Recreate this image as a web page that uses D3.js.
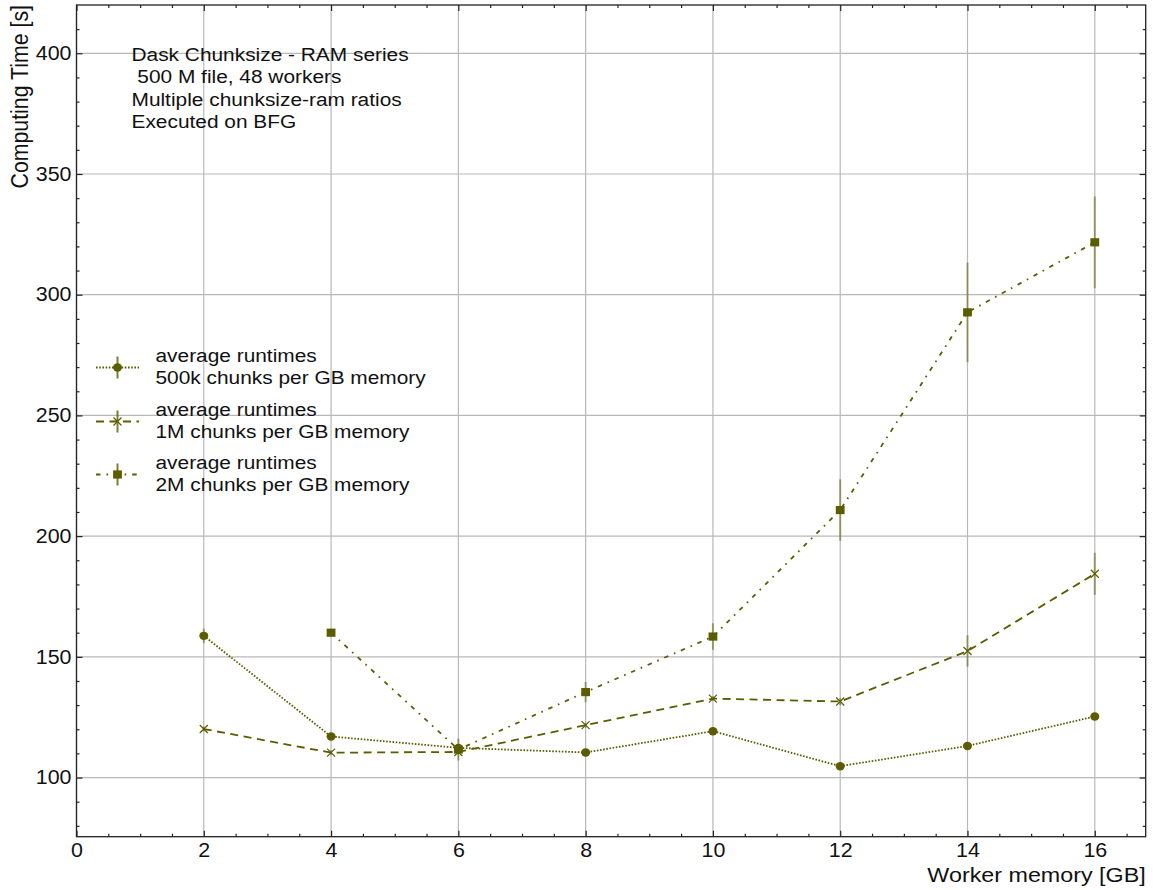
<!DOCTYPE html>
<html>
<head>
<meta charset="utf-8">
<script src="https://cdn.jsdelivr.net/npm/d3@7"></script>
<style>
  html, body { margin: 0; padding: 0; background: #fff; }
  svg { display: block; font-family: "Liberation Sans", Arial, Helvetica, sans-serif; }
</style>
</head>
<body>
<svg id="chart" width="1153" height="890"></svg>
<script>
// Worker memory (GB) for every run
const memoryGB = [2, 4, 6, 8, 10, 12, 14, 16];

// 500k chunks per GB memory
const runtime500k = [158.7, 117.0, 112.3, 110.4, 119.2, 104.7, 113.1, 125.3];
const err500k     = [3.0, 1.0, 1.0, 1.0, 1.0, 1.0, 1.0, 1.0];

// 1M chunks per GB memory
const runtime1M = [120.1, 110.3, 110.6, 121.7, 132.7, 131.5, 152.4, 184.4];
const err1M     = [1.0, 1.0, 1.0, 1.0, 1.0, 1.5, 6.5, 8.7];

// 2M chunks per GB memory (starts at 4 GB)
const memoryGB2M = [4, 6, 8, 10, 12, 14, 16];
const runtime2M  = [160.0, 111.6, 135.4, 158.4, 210.8, 292.7, 321.7];
const err2M      = [1.5, 4.5, 4.2, 5.5, 12.7, 20.6, 19.0];

const legendLabels = [
  ["average runtimes", "500k chunks per GB memory"],
  ["average runtimes", "1M chunks per GB memory"],
  ["average runtimes", "2M chunks per GB memory"]
];

const annotationLines = [
  "Dask Chunksize - RAM series",
  " 500 M file, 48 workers",
  "Multiple chunksize-ram ratios",
  "Executed on BFG"
];

const xTicks = [0, 2, 4, 6, 8, 10, 12, 14, 16];
const yTicks = [100, 150, 200, 250, 300, 350, 400];

const xLabel = "Worker memory [GB]";
const yLabel = "Computing Time [s]";

// ---- layout ----
const svg = d3.select("#chart");
const pLeft = 76.5, pRight = 1145.7, pTop = 5, pBottom = 836.7;
const x = d3.scaleLinear().domain([0, 16.8]).range([pLeft, pRight]);
const y = d3.scaleLinear().domain([75.5, 420]).range([pBottom, pTop]);

// the figure's text runs slightly wide
const sx = 1.11;

const ink = "#5c5c00";
const gridColor = "#b8b8b8";
const textColor = "#111";

// grid
const grid = svg.append("g");
grid.selectAll("line.gx").data(xTicks).join("line")
  .attr("x1", d => x(d)).attr("x2", d => x(d))
  .attr("y1", pTop).attr("y2", pBottom)
  .attr("stroke", gridColor).attr("stroke-width", 1.2);
grid.selectAll("line.gy").data(yTicks).join("line")
  .attr("x1", pLeft).attr("x2", pRight)
  .attr("y1", d => y(d)).attr("y2", d => y(d))
  .attr("stroke", gridColor).attr("stroke-width", 1.2);

// axes with inward ticks on all four sides
const xMinor = d3.range(0, 16.81, 0.5).filter(v => v % 2 !== 0);
const yMinor = d3.range(80, 420, 10).filter(v => v % 50 !== 0);

function axisGroup(axisFn, scale, transform, ticks, size, labels) {
  const a = axisFn(scale).tickValues(ticks).tickSizeInner(size).tickSizeOuter(0);
  if (!labels) a.tickFormat("");
  const g = svg.append("g").attr("transform", transform).call(a);
  g.select(".domain").remove();
  g.selectAll(".tick line").attr("stroke", "#222").attr("stroke-width", 1.2);
  return g;
}

// bottom
const gxb = axisGroup(d3.axisTop, x, `translate(0,${pBottom})`, xTicks, 6, true);
gxb.selectAll(".tick text")
  .attr("x", 0).attr("y", 20).attr("dy", null)
  .attr("transform", `scale(${sx},1)`)
  .attr("font-size", 19.3).attr("fill", textColor)
  .attr("font-family", "Liberation Sans, Arial, sans-serif");
axisGroup(d3.axisTop, x, `translate(0,${pBottom})`, xMinor, 3, false);
// top
axisGroup(d3.axisBottom, x, `translate(0,${pTop})`, xTicks, 6, false);
axisGroup(d3.axisBottom, x, `translate(0,${pTop})`, xMinor, 3, false);
// left
const gyl = axisGroup(d3.axisRight, y, `translate(${pLeft},0)`, yTicks, 6, true);
gyl.selectAll(".tick text")
  .attr("x", -5 / sx).attr("text-anchor", "end")
  .attr("transform", `scale(${sx},1)`)
  .attr("font-size", 19.3).attr("fill", textColor)
  .attr("font-family", "Liberation Sans, Arial, sans-serif");
axisGroup(d3.axisRight, y, `translate(${pLeft},0)`, yMinor, 3, false);
// right
axisGroup(d3.axisLeft, y, `translate(${pRight},0)`, yTicks, 6, false);
axisGroup(d3.axisLeft, y, `translate(${pRight},0)`, yMinor, 3, false);

// frame
svg.append("rect").attr("x", pLeft).attr("y", pTop)
  .attr("width", pRight - pLeft).attr("height", pBottom - pTop)
  .attr("fill", "none").attr("stroke", "#222").attr("stroke-width", 1.3);

// axis labels
svg.append("text")
  .attr("transform", `translate(${pRight},881.5) scale(${sx},1)`)
  .attr("text-anchor", "end").attr("font-size", 21).attr("fill", textColor)
  .text(xLabel);
svg.append("text")
  .attr("transform", `translate(27.5,${pTop}) rotate(-90) scale(1,${sx})`)
  .attr("text-anchor", "end").attr("font-size", 21.3).attr("fill", textColor)
  .text(yLabel);

// series
const series = [
  { xs: memoryGB, ys: runtime500k, es: err500k, dash: "1.6,1.6", marker: "circle" },
  { xs: memoryGB, ys: runtime1M, es: err1M, dash: "8,5.5", marker: "x" },
  { xs: memoryGB2M, ys: runtime2M, es: err2M, dash: "4.5,6,1.6,6", marker: "square" }
];

const plot = svg.append("g");
const line = d3.line().x(d => x(d[0])).y(d => y(d[1]));

function drawMarker(g, kind, cx, cy) {
  if (kind === "circle") {
    g.append("ellipse").attr("cx", cx).attr("cy", cy).attr("rx", 4.5).attr("ry", 4.2).attr("fill", ink);
  } else if (kind === "square") {
    g.append("rect").attr("x", cx - 4.4).attr("y", cy - 4.1)
      .attr("width", 8.8).attr("height", 8.2).attr("fill", ink);
  } else {
    const s = 4;
    g.append("path")
      .attr("d", `M${cx - s},${cy - s}L${cx + s},${cy + s}M${cx - s},${cy + s}L${cx + s},${cy - s}`)
      .attr("stroke", ink).attr("stroke-width", 1.2).attr("fill", "none");
  }
}

series.forEach(s => {
  const pts = s.xs.map((v, i) => [v, s.ys[i], s.es[i]]);
  plot.append("path").datum(pts).attr("d", line)
    .attr("fill", "none").attr("stroke", ink).attr("stroke-width", 1.8)
    .attr("stroke-dasharray", s.dash);
  const mg = plot.append("g");
  pts.forEach(p => drawMarker(mg, s.marker, x(p[0]), y(p[1])));
  plot.append("g").selectAll("line").data(pts).join("line")
    .attr("x1", d => x(d[0])).attr("x2", d => x(d[0]))
    .attr("y1", d => y(d[1] - d[2])).attr("y2", d => y(d[1] + d[2]))
    .attr("stroke", ink).attr("stroke-opacity", 0.5).attr("stroke-width", 2);
});

// annotation block
const ann = svg.append("text")
  .attr("transform", `translate(131.5,0) scale(${sx},1)`)
  .attr("font-size", 18.8).attr("fill", textColor)
  .attr("xml:space", "preserve").style("white-space", "pre");
annotationLines.forEach((t, i) => {
  ann.append("tspan").attr("x", 0).attr("y", 60.7 + i * 22.5).text(t);
});

// legend
const legendY = [367.5, 421.5, 474.5];
legendLabels.forEach((lab, i) => {
  const s = series[i];
  const g = svg.append("g");
  const cy = legendY[i];
  g.append("line").attr("x1", 96).attr("x2", 139).attr("y1", cy).attr("y2", cy)
    .attr("stroke", ink).attr("stroke-width", 1.8).attr("stroke-dasharray", s.dash);
  drawMarker(g, s.marker, 117.5, cy);
  g.append("line").attr("x1", 117.5).attr("x2", 117.5).attr("y1", cy - 11).attr("y2", cy + 11)
    .attr("stroke", ink).attr("stroke-opacity", 0.8).attr("stroke-width", 2);
  const t = g.append("text")
    .attr("transform", `translate(155.5,0) scale(${sx},1)`)
    .attr("font-size", 18.8).attr("fill", textColor);
  t.append("tspan").attr("x", 0).attr("y", cy - 5.5).text(lab[0]);
  t.append("tspan").attr("x", 0).attr("y", cy + 17).text(lab[1]);
});
</script>
</body>
</html>
